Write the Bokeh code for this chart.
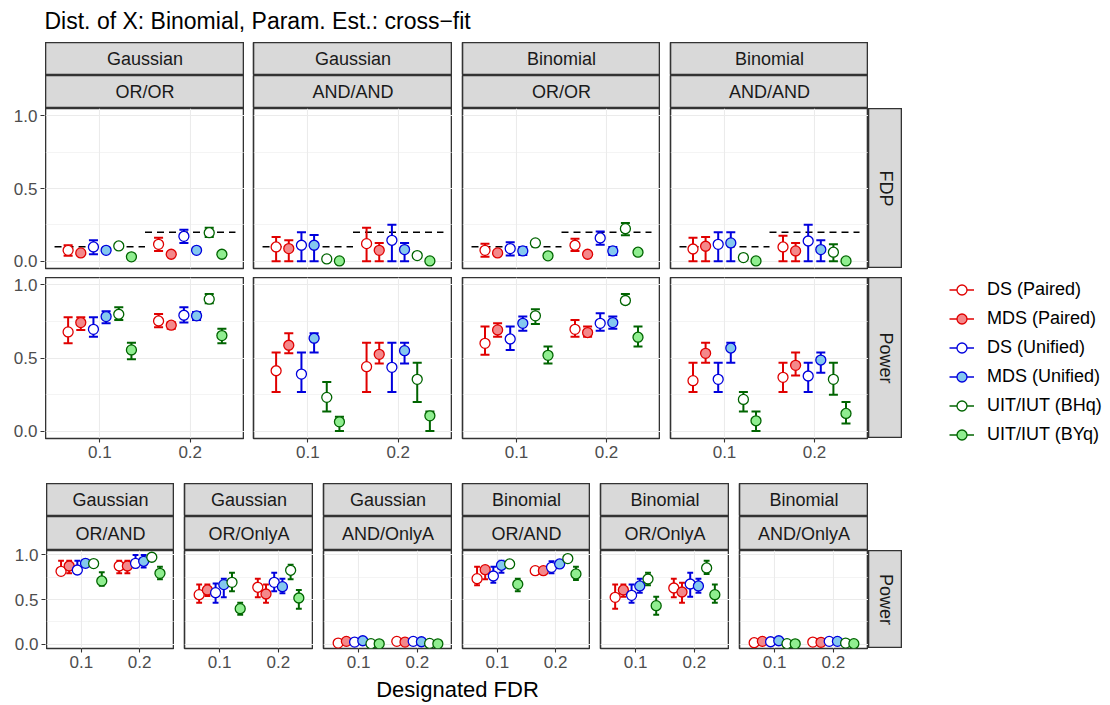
import math
from bokeh.plotting import figure
from bokeh.layouts import row, column
from bokeh.models import (Spacer, FixedTicker, Legend, LegendItem, ColumnDataSource,
                          Range1d, Label, LinearAxis, Grid)
from bokeh.transform import dodge
from bokeh.embed import file_html
from bokeh.resources import INLINE

# ---------------- data ----------------
title_text = "Dist. of X: Binomial, Param. Est.: cross\u2212fit"
x_title = "Designated FDR"
methods = ["DS (Paired)", "MDS (Paired)", "DS (Unified)", "MDS (Unified)",
           "UIT/IUT (BHq)", "UIT/IUT (BYq)"]
fdr_levels = [0.1, 0.2]
x_tick_labels = ["0.1", "0.2"]
y_ticks = [0.0, 0.5, 1.0]
y_tick_labels = ["0.0", "0.5", "1.0"]
y_minor = [0.25, 0.75]
row_labels = ["FDP", "Power"]

top_dist = ["Gaussian", "Gaussian", "Binomial", "Binomial"]
top_rule = ["OR/OR", "AND/AND", "OR/OR", "AND/AND"]
bot_dist = ["Gaussian", "Gaussian", "Gaussian", "Binomial", "Binomial", "Binomial"]
bot_rule = ["OR/AND", "OR/OnlyA", "AND/OnlyA", "OR/AND", "OR/OnlyA", "AND/OnlyA"]

# order: 6 methods at FDR 0.1, then 6 methods at FDR 0.2
go_fdp = [0.075, 0.057, 0.098, 0.075, 0.105, 0.030, 0.116, 0.048, 0.171, 0.075, 0.196, 0.048]
go_fdp_lo = [0.037, 0.050, 0.048, 0.062, 0.092, 0.024, 0.071, 0.042, 0.126, 0.060, 0.167, 0.041]
go_fdp_hi = [0.110, 0.064, 0.144, 0.088, 0.118, 0.036, 0.162, 0.054, 0.217, 0.090, 0.230, 0.055]

ga_fdp = [0.098, 0.087, 0.110, 0.110, 0.016, 0.002, 0.121, 0.075, 0.144, 0.080, 0.039, 0.002]
ga_fdp_lo = [0.0, 0.0, 0.0, 0.0, 0.010, 0.0, 0.0, 0.0, 0.0, 0.0, 0.028, 0.0]
ga_fdp_hi = [0.167, 0.144, 0.200, 0.180, 0.022, 0.005, 0.230, 0.126, 0.250, 0.126, 0.050, 0.005]

bo_fdp = [0.075, 0.057, 0.087, 0.071, 0.126, 0.037, 0.110, 0.048, 0.160, 0.071, 0.224, 0.062]
bo_fdp_lo = [0.030, 0.050, 0.039, 0.042, 0.116, 0.025, 0.071, 0.041, 0.114, 0.042, 0.178, 0.055]
bo_fdp_hi = [0.120, 0.064, 0.130, 0.098, 0.136, 0.048, 0.155, 0.055, 0.205, 0.098, 0.263, 0.070]

ba_fdp = [0.084, 0.103, 0.116, 0.126, 0.025, 0.002, 0.098, 0.071, 0.139, 0.080, 0.062, 0.002]
ba_fdp_lo = [0.0, 0.0, 0.0, 0.0, 0.018, 0.0, 0.0, 0.0, 0.0, 0.0, 0.0, 0.0]
ba_fdp_hi = [0.162, 0.167, 0.200, 0.200, 0.031, 0.005, 0.176, 0.126, 0.250, 0.144, 0.116, 0.005]

go_pow = [0.678, 0.742, 0.696, 0.783, 0.799, 0.555, 0.753, 0.724, 0.792, 0.788, 0.902, 0.653]
go_pow_lo = [0.600, 0.692, 0.646, 0.737, 0.760, 0.491, 0.710, 0.700, 0.742, 0.760, 0.874, 0.600]
go_pow_hi = [0.779, 0.779, 0.779, 0.820, 0.847, 0.605, 0.801, 0.745, 0.847, 0.815, 0.938, 0.699]

ga_pow = [0.413, 0.587, 0.390, 0.635, 0.231, 0.064, 0.441, 0.525, 0.436, 0.550, 0.354, 0.105]
ga_pow_lo = [0.267, 0.532, 0.267, 0.537, 0.135, 0.002, 0.267, 0.463, 0.267, 0.463, 0.200, 0.002]
ga_pow_hi = [0.537, 0.669, 0.537, 0.669, 0.336, 0.098, 0.605, 0.605, 0.605, 0.605, 0.468, 0.135]

bo_pow = [0.600, 0.692, 0.630, 0.737, 0.788, 0.518, 0.696, 0.674, 0.737, 0.742, 0.893, 0.642]
bo_pow_lo = [0.523, 0.646, 0.555, 0.687, 0.733, 0.463, 0.646, 0.646, 0.687, 0.700, 0.874, 0.578]
bo_pow_hi = [0.715, 0.737, 0.715, 0.783, 0.833, 0.578, 0.760, 0.715, 0.806, 0.783, 0.938, 0.715]

ba_pow = [0.345, 0.532, 0.354, 0.568, 0.217, 0.071, 0.368, 0.450, 0.377, 0.486, 0.354, 0.121]
ba_pow_lo = [0.267, 0.468, 0.267, 0.468, 0.135, 0.002, 0.267, 0.381, 0.267, 0.400, 0.249, 0.053]
ba_pow_hi = [0.468, 0.605, 0.468, 0.605, 0.267, 0.135, 0.468, 0.537, 0.468, 0.537, 0.468, 0.200]

goa_pow = [0.816, 0.876, 0.831, 0.906, 0.903, 0.708, 0.876, 0.876, 0.906, 0.929, 0.974, 0.794]
goa_pow_lo = [0.779, 0.794, 0.794, 0.870, 0.890, 0.655, 0.794, 0.794, 0.860, 0.860, 0.965, 0.727]
goa_pow_hi = [0.936, 0.936, 0.936, 0.936, 0.915, 0.805, 0.936, 0.936, 1.000, 1.000, 0.985, 0.869]

gol_pow = [0.554, 0.607, 0.577, 0.667, 0.693, 0.397, 0.637, 0.562, 0.693, 0.644, 0.828, 0.517]
gol_pow_lo = [0.464, 0.540, 0.464, 0.524, 0.592, 0.330, 0.524, 0.464, 0.592, 0.570, 0.727, 0.397]
gol_pow_hi = [0.667, 0.667, 0.680, 0.734, 0.800, 0.464, 0.734, 0.667, 0.800, 0.734, 0.891, 0.607]

gal_pow = [0.011, 0.030, 0.022, 0.037, 0.004, 0.002, 0.030, 0.022, 0.030, 0.026, 0.007, 0.002]
gal_pow_lo = [0.004, 0.022, 0.015, 0.029, 0.0, 0.0, 0.022, 0.015, 0.022, 0.018, 0.002, 0.0]
gal_pow_hi = [0.018, 0.038, 0.029, 0.045, 0.008, 0.005, 0.038, 0.029, 0.038, 0.034, 0.012, 0.005]

boa_pow = [0.734, 0.835, 0.764, 0.884, 0.899, 0.670, 0.824, 0.824, 0.861, 0.899, 0.959, 0.787]
boa_pow_lo = [0.659, 0.727, 0.689, 0.801, 0.885, 0.592, 0.805, 0.805, 0.794, 0.861, 0.950, 0.719]
boa_pow_hi = [0.869, 0.876, 0.869, 0.936, 0.912, 0.734, 0.843, 0.843, 0.929, 0.936, 0.970, 0.869]

bol_pow = [0.524, 0.607, 0.547, 0.652, 0.730, 0.431, 0.629, 0.584, 0.674, 0.652, 0.854, 0.554]
bol_pow_lo = [0.397, 0.532, 0.464, 0.577, 0.659, 0.330, 0.524, 0.464, 0.532, 0.577, 0.787, 0.464]
bol_pow_hi = [0.667, 0.667, 0.667, 0.734, 0.800, 0.532, 0.734, 0.689, 0.800, 0.734, 0.936, 0.667]

bal_pow = [0.015, 0.030, 0.026, 0.037, 0.004, 0.002, 0.022, 0.019, 0.030, 0.030, 0.011, 0.004]
bal_pow_lo = [0.008, 0.022, 0.018, 0.029, 0.0, 0.0, 0.015, 0.012, 0.022, 0.022, 0.005, 0.0]
bal_pow_hi = [0.022, 0.038, 0.034, 0.045, 0.008, 0.005, 0.029, 0.026, 0.038, 0.038, 0.017, 0.008]

top_fdp = [(go_fdp, go_fdp_lo, go_fdp_hi), (ga_fdp, ga_fdp_lo, ga_fdp_hi),
           (bo_fdp, bo_fdp_lo, bo_fdp_hi), (ba_fdp, ba_fdp_lo, ba_fdp_hi)]
top_pow = [(go_pow, go_pow_lo, go_pow_hi), (ga_pow, ga_pow_lo, ga_pow_hi),
           (bo_pow, bo_pow_lo, bo_pow_hi), (ba_pow, ba_pow_lo, ba_pow_hi)]
bot_pow = [(goa_pow, goa_pow_lo, goa_pow_hi), (gol_pow, gol_pow_lo, gol_pow_hi),
           (gal_pow, gal_pow_lo, gal_pow_hi), (boa_pow, boa_pow_lo, boa_pow_hi),
           (bol_pow, bol_pow_lo, bol_pow_hi), (bal_pow, bal_pow_lo, bal_pow_hi)]

# ---------------- style ----------------
FONT = "Liberation Sans"
TICK_FS = "17px"
STRIP_FS = "18px"
LEG_FS = "18px"
TITLE_FS = "23px"
XTITLE_FS = "22px"
outline_colors = ["#E00000", "#E00000", "#0000DD", "#0000DD", "#006400", "#006400"]
fill_colors = ["white", "#F4888A", "white", "#84C8EE", "white", "#90EE90"]
DODGE_STEP = 0.014
offsets = [(i - 2.5) * DODGE_STEP for i in range(6)]
CAP = 0.005
X_RANGE = (0.04, 0.26)
Y_RANGE = (-0.05, 1.05)


def base_fig(w, h, bl=0, bb=0, bt=0, xr=(0, 1), yr=(0, 1)):
    p = figure(width=w, height=h, x_range=Range1d(*xr), y_range=Range1d(*yr),
               x_axis_location=None, y_axis_location=None, toolbar_location=None,
               output_backend="svg", min_border_left=bl, min_border_right=0,
               min_border_top=bt, min_border_bottom=bb)
    p.center = [c for c in p.center if not isinstance(c, Grid)]
    p.background_fill_color = "white"
    p.border_fill_color = "white"
    p.outline_line_color = None
    return p


def style_axis(ax):
    ax.axis_line_color = None
    ax.major_tick_line_color = "#333333"
    ax.major_tick_line_width = 1.1
    ax.major_tick_out = 4
    ax.major_tick_in = 0
    ax.minor_tick_line_color = None
    ax.major_label_text_color = "#4D4D4D"
    ax.major_label_text_font = FONT
    ax.major_label_text_font_size = TICK_FS
    ax.major_label_standoff = 3


def y_axis_fig(w, top, fh, bottom):
    # narrow figure holding only the y axis, aligned with a panel frame
    p = base_fig(w, top + fh + bottom, bl=w - 1, bb=bottom, bt=top, yr=Y_RANGE)
    ax = LinearAxis(ticker=FixedTicker(ticks=y_ticks),
                    major_label_overrides=dict(zip(y_ticks, y_tick_labels)))
    style_axis(ax)
    p.add_layout(ax, "left")
    return p


def make_strip(text, fw, h, bl=0, vertical=False):
    p = base_fig(fw + bl, h, bl=bl)
    p.background_fill_color = "#D9D9D9"
    p.outline_line_color = "#333333"
    p.outline_line_width = 1.6
    p.add_layout(Label(x=0.5, y=0.5, text=text, text_align="center",
                       text_baseline="middle", angle=(-math.pi / 2 if vertical else 0),
                       text_font=FONT, text_font_size=STRIP_FS, text_color="#1A1A1A"))
    return p


def method_sources(series):
    est, lo, hi = series
    out = []
    for m in range(6):
        idx = [m, m + 6]
        out.append(ColumnDataSource(dict(fdr=fdr_levels,
                                         est=[est[i] for i in idx],
                                         lo=[lo[i] for i in idx],
                                         hi=[hi[i] for i in idx])))
    return out


def make_panel(series, fw, fh, bl, bb, bottom_axis, target):
    p = base_fig(fw + bl, fh + bb, bl=bl, bb=bb, xr=X_RANGE, yr=Y_RANGE)
    p.outline_line_color = "#333333"
    p.outline_line_width = 1.6
    gx = Grid(dimension=0, ticker=FixedTicker(ticks=fdr_levels),
              grid_line_color="#EBEBEB", grid_line_width=1.1)
    gy = Grid(dimension=1, ticker=FixedTicker(ticks=y_ticks, minor_ticks=y_minor),
              grid_line_color="#EBEBEB", grid_line_width=1.1,
              minor_grid_line_color="#EBEBEB", minor_grid_line_width=0.55)
    p.add_layout(gx)
    p.add_layout(gy)
    if bottom_axis:
        ax = LinearAxis(ticker=FixedTicker(ticks=fdr_levels),
                        major_label_overrides=dict(zip(fdr_levels, x_tick_labels)))
        style_axis(ax)
        p.add_layout(ax, "below")
    if target:
        tsrc = ColumnDataSource(dict(fdr=fdr_levels))
        p.segment(x0=dodge("fdr", -0.05), x1=dodge("fdr", 0.05), y0="fdr", y1="fdr",
                  source=tsrc, line_color="black", line_width=1.5, line_dash="7 5")
    for m, src in enumerate(method_sources(series)):
        off = offsets[m]
        col = outline_colors[m]
        p.segment(x0=dodge("fdr", off), x1=dodge("fdr", off), y0="lo", y1="hi",
                  source=src, line_color=col, line_width=2)
        p.segment(x0=dodge("fdr", off - CAP), x1=dodge("fdr", off + CAP), y0="hi", y1="hi",
                  source=src, line_color=col, line_width=2)
        p.segment(x0=dodge("fdr", off - CAP), x1=dodge("fdr", off + CAP), y0="lo", y1="lo",
                  source=src, line_color=col, line_width=2)
        p.scatter(x=dodge("fdr", off), y="est", source=src, size=10,
                  fill_color=fill_colors[m], line_color=col, line_width=1.3)
    return p


# ---------------- title ----------------
title_fig = base_fig(1102, 42, xr=(0, 1102), yr=(0, 42))
title_fig.add_layout(Label(x=44, y=22, x_units="screen", y_units="screen", text=title_text,
                           text_align="left", text_baseline="alphabetic",
                           text_font=FONT, text_font_size=TITLE_FS, text_color="black"))

# ---------------- top section ----------------
top_bl = [0, 9, 10, 10]
top_fw = [199, 199, 198, 198]
top_cols = [column(y_axis_fig(45, 66, 160, 5), y_axis_fig(45, 4, 161, 45), spacing=0)]
for i in range(4):
    s1 = make_strip(top_dist[i], top_fw[i], 33, bl=top_bl[i])
    s2 = make_strip(top_rule[i], top_fw[i], 33, bl=top_bl[i])
    pf = make_panel(top_fdp[i], top_fw[i], 160, top_bl[i], 9, False, True)
    pp = make_panel(top_pow[i], top_fw[i], 161, top_bl[i], 45, True, False)
    top_cols.append(column(s1, s2, pf, pp, spacing=0))

rs_top = column(Spacer(width=34, height=66),
                make_strip(row_labels[0], 34, 160, vertical=True),
                Spacer(width=34, height=9),
                make_strip(row_labels[1], 34, 161, vertical=True),
                Spacer(width=34, height=45), spacing=0)

# legend: renderers use real data but sit outside this figure's visible range
leg_fig = base_fig(200, 441, xr=(5, 6), yr=(5, 6))
items = []
for m, src in enumerate(method_sources(top_pow[0])):
    lr = leg_fig.line(x="fdr", y="est", source=src, line_color=outline_colors[m], line_width=1.5)
    sr = leg_fig.scatter(x="fdr", y="est", source=src, size=10, fill_color=fill_colors[m],
                         line_color=outline_colors[m], line_width=1.3)
    items.append(LegendItem(label=methods[m], renderers=[lr, sr]))
legend = Legend(items=items, location=(47, 36), glyph_width=25, glyph_height=25,
                label_height=25, spacing=4, padding=0, margin=0, label_standoff=13,
                border_line_color=None, background_fill_alpha=0,
                label_text_font=FONT, label_text_font_size=LEG_FS, label_text_color="black")
leg_fig.add_layout(legend)

top_row = row(*top_cols, rs_top, leg_fig, spacing=0)

# ---------------- bottom section ----------------
bot_bl = [0, 10, 10, 10, 10, 10]
bot_fw = [128, 129, 129, 128, 129, 129]
bot_cols = [y_axis_fig(46, 67, 98, 24)]
for i in range(6):
    s1 = make_strip(bot_dist[i], bot_fw[i], 33, bl=bot_bl[i])
    s2 = make_strip(bot_rule[i], bot_fw[i], 34, bl=bot_bl[i])
    pp = make_panel(bot_pow[i], bot_fw[i], 98, bot_bl[i], 24, True, False)
    bot_cols.append(column(s1, s2, pp, spacing=0))
rs_bot = column(Spacer(width=34, height=67),
                make_strip(row_labels[1], 34, 98, vertical=True),
                Spacer(width=34, height=24), spacing=0)
bot_row = row(*bot_cols, rs_bot, spacing=0)

xlab_fig = base_fig(902, 30, xr=(0, 902), yr=(0, 30))
xlab_fig.add_layout(Label(x=457, y=13, x_units="screen", y_units="screen", text=x_title,
                          text_align="center", text_baseline="alphabetic",
                          text_font=FONT, text_font_size=XTITLE_FS, text_color="black"))

page = column(title_fig, top_row, bot_row, xlab_fig, spacing=0)

open("out.html", "w").write(file_html(page, INLINE))
